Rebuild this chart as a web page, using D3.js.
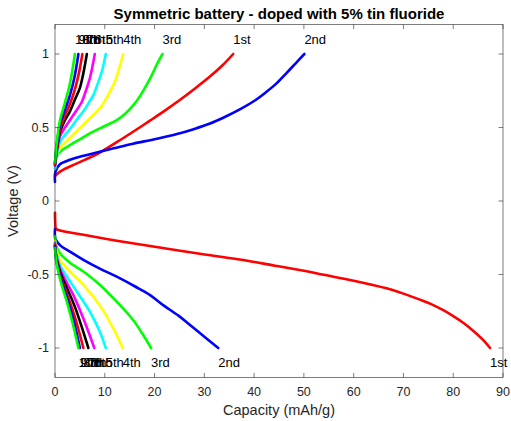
<!DOCTYPE html>
<html>
<head>
<meta charset="utf-8">
<script src="https://cdn.jsdelivr.net/npm/d3@7"></script>
<style>
  html, body { margin: 0; padding: 0; background: #fff; }
  svg { display: block; font-family: "Liberation Sans", Arial, Helvetica, sans-serif; }
</style>
</head>
<body>
<svg id="chart" width="511" height="421"></svg>
<script>
// Cycle labels and line colours (one per cycle)
const cycles = ["1st", "2nd", "3rd", "4th", "5th", "6th", "7th", "8th", "9th", "10th"];
const colors = ["#ff0000", "#0000ff", "#00ff00", "#ffff00", "#00ffff", "#ff00ff", "#000000", "#ff0000", "#0000ff", "#00ff00"];

// Charge curves: [capacity mAh/g, voltage V]
const charge1 = [[0,0.17],[1,0.2],[3,0.235],[6,0.28],[9,0.33],[12.4,0.40],[16,0.478],[19,0.545],[22,0.613],[25,0.685],[28,0.762],[31,0.843],[33.5,0.918],[35.8,1.0]];
const charge2 = [[0,0.13],[0.1,0.2],[1,0.25],[3,0.28],[6,0.31],[9,0.335],[12,0.36],[15.7,0.39],[20,0.42],[24.5,0.455],[28,0.49],[31,0.525],[34,0.57],[37.5,0.63],[40,0.68],[42.2,0.735],[44.5,0.8],[46.5,0.87],[48.3,0.935],[50.1,1.0]];
const charge3 = [[0,0.24],[0.3,0.3],[1,0.335],[3,0.38],[5,0.42],[7,0.46],[10,0.51],[12.4,0.55],[14,0.59],[15.7,0.65],[17,0.71],[18.4,0.79],[19.5,0.86],[20.4,0.925],[21.6,1.0]];
const charge4 = [[0,0.22],[0.3,0.3],[1,0.36],[3,0.43],[5.7,0.52],[7.5,0.58],[9,0.63],[10,0.68],[11,0.74],[12,0.81],[12.7,0.88],[13.7,1.0]];
const charge5 = [[0,0.22],[0.3,0.3],[1,0.40],[2,0.45],[3,0.49],[4.5,0.56],[5.7,0.61],[7,0.68],[7.7,0.72],[8.6,0.8],[9.4,0.88],[10.2,1.0]];
const charge6 = [[0,0.24],[0.3,0.32],[1,0.44],[2,0.5],[3,0.55],[4.2,0.61],[5.4,0.675],[6.2,0.75],[7,0.835],[8.0,1.0]];
const charge7 = [[0,0.25],[0.3,0.33],[1,0.47],[2,0.55],[3,0.61],[4,0.69],[5,0.77],[5.7,0.87],[6.4,1.0]];
const charge8 = [[0,0.25],[0.3,0.34],[1,0.49],[2,0.58],[3,0.66],[4,0.76],[4.8,0.87],[5.5,1.0]];
const charge9 = [[0,0.26],[0.3,0.36],[1,0.52],[2,0.62],[3,0.72],[3.9,0.84],[4.7,1.0]];
const charge10 = [[0,0.26],[0.3,0.38],[1,0.55],[2,0.67],[3,0.8],[4.0,1.0]];

// Discharge curves: [capacity mAh/g, voltage V]
const discharge1 = [[0,-0.08],[0.05,-0.15],[0.2,-0.19],[1,-0.2],[5.7,-0.23],[12.4,-0.27],[19.1,-0.306],[24.5,-0.335],[30.8,-0.367],[37.5,-0.40],[44.2,-0.44],[50,-0.475],[54,-0.502],[60,-0.542],[66.6,-0.594],[70,-0.63],[73.3,-0.671],[76,-0.708],[78,-0.743],[80,-0.783],[82,-0.828],[84,-0.882],[86,-0.945],[87.4,-1.0]];
const discharge2 = [[0,-0.19],[0.1,-0.26],[1,-0.30],[3,-0.345],[5.7,-0.40],[9,-0.46],[12.4,-0.515],[16,-0.58],[19.1,-0.64],[21.8,-0.71],[24.8,-0.78],[27,-0.84],[28.8,-0.89],[30.8,-0.945],[32.8,-1.0]];
const discharge3 = [[0,-0.24],[0.2,-0.3],[1,-0.356],[3,-0.42],[5.7,-0.48],[9,-0.57],[12.4,-0.685],[15.7,-0.81],[17.5,-0.9],[19.3,-1.0]];
const discharge4 = [[0,-0.27],[0.2,-0.32],[1,-0.40],[3,-0.48],[5.7,-0.57],[9,-0.71],[11.7,-0.866],[13.6,-1.0]];
const discharge5 = [[0,-0.28],[0.2,-0.34],[1,-0.435],[2.5,-0.52],[4.4,-0.617],[7,-0.753],[9,-0.89],[10.2,-1.0]];
const discharge6 = [[0,-0.29],[0.2,-0.36],[1,-0.46],[2.3,-0.55],[3.7,-0.64],[5.7,-0.8],[7.9,-1.0]];
const discharge7 = [[0,-0.3],[0.2,-0.37],[1,-0.48],[2.5,-0.6],[4,-0.72],[5.4,-0.86],[6.7,-1.0]];
const discharge8 = [[0,-0.3],[0.2,-0.38],[1,-0.5],[2.5,-0.64],[4,-0.79],[5.7,-1.0]];
const discharge9 = [[0,-0.31],[0.2,-0.39],[1,-0.51],[2.5,-0.67],[3.8,-0.82],[5.0,-1.0]];
const discharge10 = [[0,-0.32],[0.2,-0.4],[1,-0.53],[2.5,-0.7],[3.6,-0.84],[4.7,-1.0]];

// Axis ticks
const xTicks = [0, 10, 20, 30, 40, 50, 60, 70, 80, 90];
const yTicks = [-1, -0.5, 0, 0.5, 1];

const chargeSeries = [charge1, charge2, charge3, charge4, charge5, charge6, charge7, charge8, charge9, charge10];
const dischargeSeries = [discharge1, discharge2, discharge3, discharge4, discharge5, discharge6, discharge7, discharge8, discharge9, discharge10];

const svg = d3.select("#chart");
const axisColor = "#262626";

const x = d3.scaleLinear().domain([0, 90]).range([55, 503]);
const y = d3.scaleLinear().domain([-1.2, 1.2]).range([377.4, 24.6]);
const [x0, x1] = x.range();
const [yb, yt] = y.range();
const tickLen = 4.5;

const line = d3.line()
  .x(d => x(d[0]))
  .y(d => y(d[1]))
  .curve(d3.curveCatmullRom.alpha(0.5));

// Curves, drawn cycle by cycle
const curves = svg.append("g").attr("fill", "none").attr("stroke-width", 2.6)
  .attr("stroke-linejoin", "round").attr("stroke-linecap", "round");
cycles.forEach((c, i) => {
  curves.append("path").attr("d", line(chargeSeries[i])).attr("stroke", colors[i]);
  curves.append("path").attr("d", line(dischargeSeries[i])).attr("stroke", colors[i]);
});

// Cycle labels at the end of each curve
const labels = svg.append("g").attr("font-size", 13).attr("fill", "#000");
cycles.forEach((c, i) => {
  const top = chargeSeries[i][chargeSeries[i].length - 1];
  const bot = dischargeSeries[i][dischargeSeries[i].length - 1];
  labels.append("text").attr("x", x(top[0])).attr("y", y(1.1))
    .attr("dominant-baseline", "central").text(c);
  labels.append("text").attr("x", x(bot[0])).attr("y", y(-1.1))
    .attr("dominant-baseline", "central").text(c);
});

// Box with inward ticks on all four sides
const frame = svg.append("g").attr("stroke", axisColor).attr("stroke-width", 0.6).attr("fill", "none");
frame.append("rect").attr("x", x0).attr("y", yt).attr("width", x1 - x0).attr("height", yb - yt);
xTicks.forEach(t => {
  frame.append("line").attr("x1", x(t)).attr("x2", x(t)).attr("y1", yb).attr("y2", yb - tickLen);
  frame.append("line").attr("x1", x(t)).attr("x2", x(t)).attr("y1", yt).attr("y2", yt + tickLen);
});
yTicks.forEach(t => {
  frame.append("line").attr("x1", x0).attr("x2", x0 + tickLen).attr("y1", y(t)).attr("y2", y(t));
  frame.append("line").attr("x1", x1).attr("x2", x1 - tickLen).attr("y1", y(t)).attr("y2", y(t));
});

// Tick labels
const tl = svg.append("g").attr("font-size", 12.5).attr("fill", axisColor);
xTicks.forEach(t => {
  tl.append("text").attr("x", x(t)).attr("y", yb + 15).attr("text-anchor", "middle")
    .attr("dominant-baseline", "central").text(t);
});
yTicks.forEach(t => {
  tl.append("text").attr("x", x0 - 6).attr("y", y(t)).attr("text-anchor", "end")
    .attr("dominant-baseline", "central").text(t);
});

// Axis titles
svg.append("text").attr("x", (x0 + x1) / 2).attr("y", 410).attr("text-anchor", "middle")
  .attr("dominant-baseline", "central").attr("font-size", 14.5).attr("fill", axisColor)
  .text("Capacity (mAh/g)");
svg.append("text").attr("transform", `translate(13,${y(0)}) rotate(-90)`).attr("text-anchor", "middle")
  .attr("dominant-baseline", "central").attr("font-size", 14.5).attr("fill", axisColor)
  .text("Voltage (V)");

// Title
svg.append("text").attr("x", (x0 + x1) / 2).attr("y", 13).attr("text-anchor", "middle")
  .attr("dominant-baseline", "central").attr("font-size", 15).attr("font-weight", "bold")
  .attr("fill", "#000").text("Symmetric battery - doped with 5% tin fluoride");
</script>
</body>
</html>
